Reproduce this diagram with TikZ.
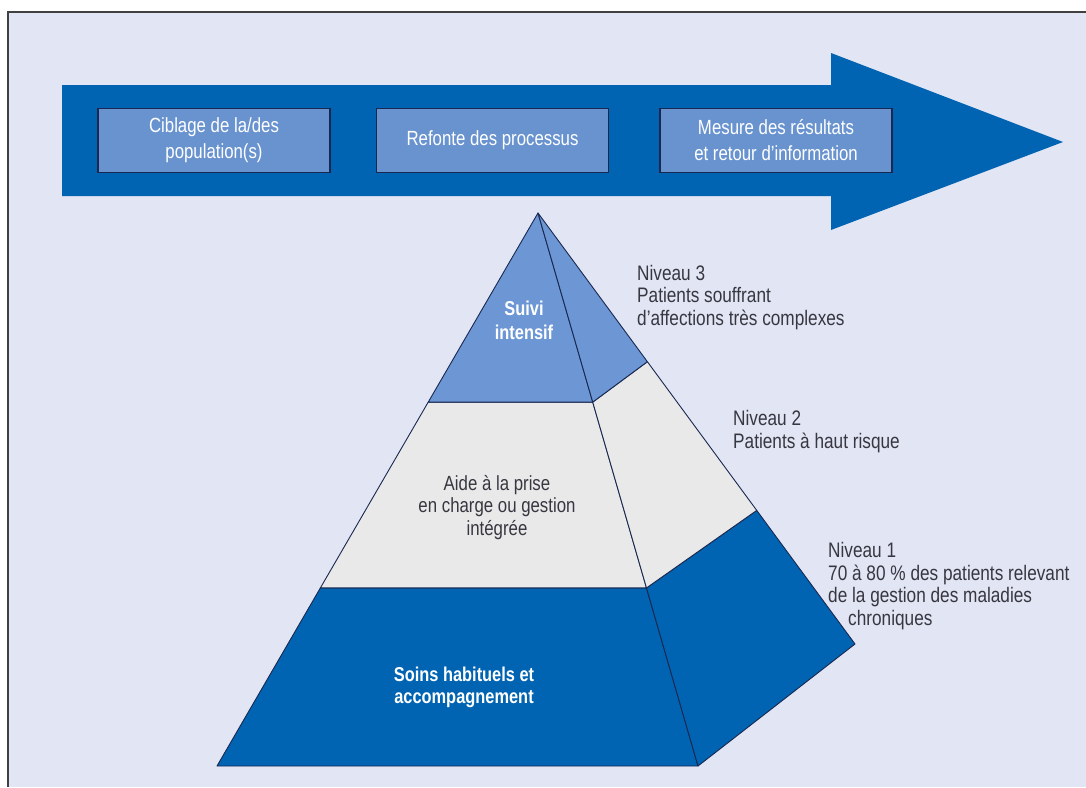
\documentclass[tikz,border=0pt]{standalone}
\usepackage{fontspec}
\setmainfont{Liberation Sans}[FakeStretch=0.82]
\usetikzlibrary{positioning,calc}
\definecolor{flowcolor}{RGB}{0,100,178}
\definecolor{stepcolor}{RGB}{104,147,207}
\definecolor{topcolor}{RGB}{108,150,212}
\definecolor{midcolor}{RGB}{233,233,233}
\definecolor{edgecolor}{RGB}{25,40,80}
\definecolor{pagecolor}{RGB}{226,229,244}
\definecolor{labelcolor}{RGB}{55,55,65}

\begin{document}
\begin{tikzpicture}[
	x=1pt,
	y=-1pt,
	stepbox/.style={
		rectangle,
		draw=edgecolor,
		line width=1.5pt,
		fill=stepcolor,
		minimum width=232pt,
		minimum height=64pt,
		text=white,
		align=center,
		font=\fontsize{20.5}{26}\selectfont
	},
	face/.style={
		draw=edgecolor,
		line width=0.9pt,
		line join=round
	},
	layer/.style={
		align=center,
		inner sep=0pt,
		font=\fontsize{20.5}{22.5}\selectfont
	},
	level/.style={
		anchor=west,
		align=left,
		inner sep=0pt,
		text=labelcolor,
		font=\fontsize{21}{22.5}\selectfont
	}
	]
	
	% Page and frame
	\fill[white] (0,0) rectangle (1086,787);
	\useasboundingbox (0,0) rectangle (1086,787);
	\fill[pagecolor] (8,12) rectangle (1086,787);
	\draw[line width=2pt, black!75] (8,787) -- (8,12) -- (1086,12);
	
	% Process arrow
	\fill[flowcolor] (62,85) -- (831,85) -- (831,53) -- (1063,142)
		-- (831,230) -- (831,196) -- (62,196) -- cycle;
	
	% Steps along the arrow
	\node[stepbox] (target) at (214,140.5) {Ciblage de la/des\\population(s)};
	\node[stepbox, right=45pt of target] (redesign) {Refonte des processus};
	\node[stepbox, right=50pt of redesign] (measure) {Mesure des résultats\\et retour d’information};
	
	% Pyramid corners
	\coordinate (apex) at (538,213);
	\coordinate (front-l) at (217,766);
	\coordinate (front-r) at (698,766);
	\coordinate (back-r) at (855,644);
	\coordinate (top-l) at ($(apex)!0.342!(front-l)$);
	\coordinate (top-r) at ($(apex)!0.342!(front-r)$);
	\coordinate (top-b) at ($(apex)!0.345!(back-r)$);
	\coordinate (mid-l) at ($(apex)!0.678!(front-l)$);
	\coordinate (mid-r) at ($(apex)!0.678!(front-r)$);
	\coordinate (mid-b) at ($(apex)!0.69!(back-r)$);
	
	% Level 1
	\filldraw[face, fill=flowcolor] (mid-l) -- (mid-r) -- (front-r) -- (front-l) -- cycle;
	\filldraw[face, fill=flowcolor] (mid-r) -- (mid-b) -- (back-r) -- (front-r) -- cycle;
	% Level 2
	\filldraw[face, fill=midcolor] (top-l) -- (top-r) -- (mid-r) -- (mid-l) -- cycle;
	\filldraw[face, fill=midcolor] (top-r) -- (top-b) -- (mid-b) -- (mid-r) -- cycle;
	% Level 3
	\filldraw[face, fill=topcolor] (apex) -- (top-r) -- (top-l) -- cycle;
	\filldraw[face, fill=topcolor] (apex) -- (top-b) -- (top-r) -- cycle;
	
	% Text on the front faces
	\node[layer, text=white, font=\fontsize{20}{24}\selectfont\bfseries] (intensive) at (524,320) {Suivi\\intensif};
	\node[layer, text=labelcolor] (managed) at (497,507.5) {Aide à la prise\\en charge ou gestion\\intégrée};
	\node[layer, text=white, font=\fontsize{20}{21.5}\selectfont\bfseries] (usual) at (464,687.5) {Soins habituels et\\accompagnement};
	
	% Level descriptions
	\node[level] (level3) at (637,297.5) {Niveau 3\\Patients souffrant\\d’affections très complexes};
	\node[level] (level2) at (733,431.5) {Niveau 2\\Patients à haut risque};
	\node[level] (level1) at (828,586) {Niveau 1\\70 à 80 \% des patients relevant\\de la gestion des maladies\\\hspace*{20pt}chroniques};
	
\end{tikzpicture}
\end{document}
